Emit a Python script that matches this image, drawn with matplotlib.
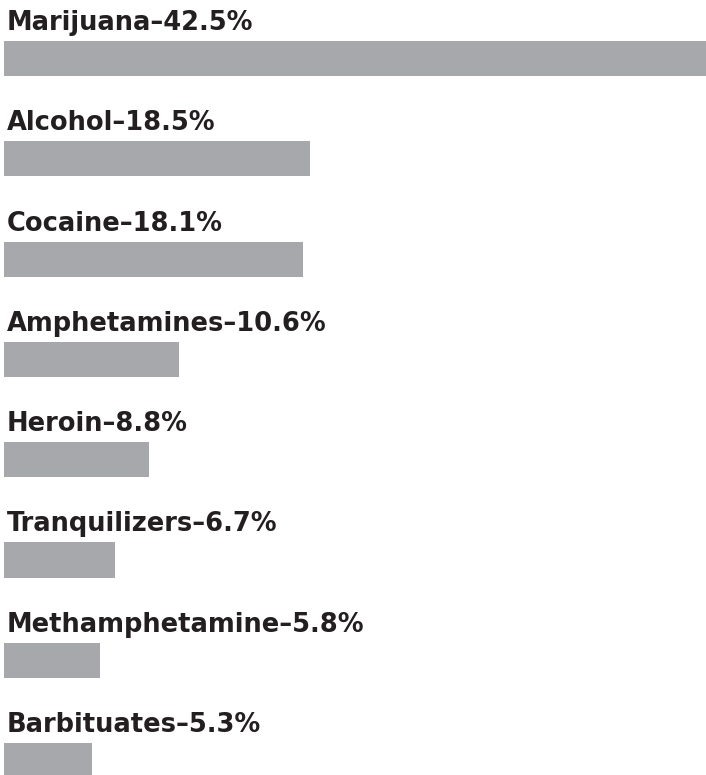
import matplotlib.pyplot as plt

# drug use share among arrestees
drugs = ["Marijuana", "Alcohol", "Cocaine", "Amphetamines", "Heroin",
         "Tranquilizers", "Methamphetamine", "Barbituates"]
shares = [42.5, 18.5, 18.1, 10.6, 8.8, 6.7, 5.8, 5.3]

BAR_COLOR = "#a7a8ab"
TEXT_COLOR = "#231f20"
BAR_H = 0.349

fig = plt.figure(figsize=(7.06, 7.75), dpi=100)
ax = fig.add_axes([0, 0, 1, 1])

ypos = list(range(len(drugs)))
ax.barh(ypos, shares, height=BAR_H, color=BAR_COLOR, edgecolor="none")

for y, name, val in zip(ypos, drugs, shares):
    ax.annotate(f"{name}\u2013{val:.1f}%", xy=(0, y - BAR_H / 2),
                xytext=(3, 11), textcoords="offset pixels",
                ha="left", va="baseline", fontsize=18.5,
                fontweight="bold", family="DejaVu Sans",
                color=TEXT_COLOR)

scale = 702 / 42.5  # px per percent
ax.set_xlim(-4 / scale, 42.5)
ax.set_ylim((775 - 58.5) / 100.3, -58.5 / 100.3)
ax.axis("off")

fig.savefig("out.png", dpi=100)
